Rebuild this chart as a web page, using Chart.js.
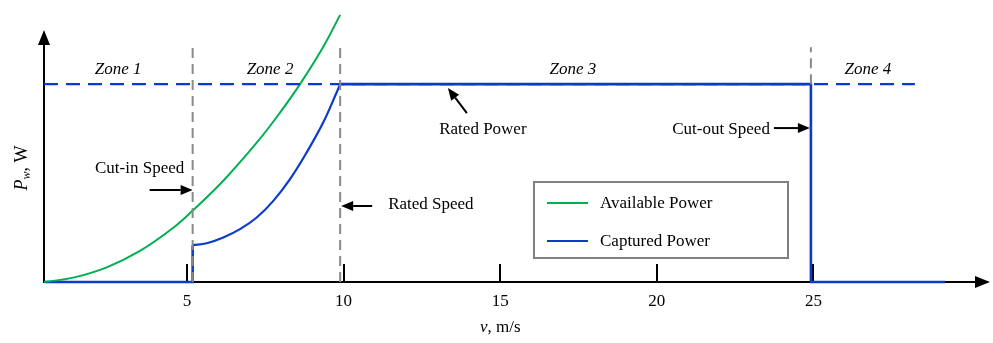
<!DOCTYPE html>
<html>
<head>
<meta charset="utf-8">
<script src="https://cdn.jsdelivr.net/npm/chart.js@4"></script>
<style>
html,body{margin:0;padding:0;background:#fff;}
canvas{display:block;}
</style>
</head>
<body>
<canvas id="c" width="993" height="343"></canvas>
<script>
// ---- data ----
const xTicks = [5, 10, 15, 20, 25];
const zoneLabels = ['Zone 1', 'Zone 2', 'Zone 3', 'Zone 4'];
const zoneCenters = [2.80, 7.65, 17.32, 26.74];

const cutIn = 5.18;
const ratedSpeed = 9.89;
const cutOut = 24.92;
const ratedPower = 1.0;
const vStart = 0.434;
const vEnd = 29.2;
const ratedLineEnd = 28.24;

const availV = [0.434, 1.370, 2.436, 3.499, 4.563, 5.182, 6.159, 7.226, 7.969, 8.608, 9.352, 9.89];
const availP = [0.000, 0.022, 0.074, 0.157, 0.274, 0.361, 0.512, 0.704, 0.856, 1.000, 1.189, 1.350];

const captCurveV = [5.18, 5.629, 6.159, 6.692, 7.226, 7.756, 8.289, 8.822, 9.352, 9.78, 9.89];
const captCurveP = [0.186, 0.196, 0.225, 0.267, 0.326, 0.410, 0.520, 0.655, 0.807, 0.959, 1.000];

const captLowV = [vStart, cutIn, cutIn];
const captLowP = [0, 0, 0.186];
const captHighV = [ratedSpeed, cutOut, cutOut, vEnd];
const captHighP = [ratedPower, ratedPower, 0, 0];

const zoneLineTop = 1.187;

// ---- styles ----
const GREEN = '#00b050';
const BLUE = '#0b3bc8';
const GRAY = '#8a8a8a';
const SERIF = '"Liberation Serif", "DejaVu Serif", serif';

const pts = (xs, ys) => xs.map((x, i) => ({x: x, y: ys[i]}));

const datasets = [
  {label: 'cut-in line', data: pts([cutIn, cutIn], [0, zoneLineTop]), borderColor: GRAY, borderWidth: 2, borderDash: [10, 6], tension: 0},
  {label: 'rated line', data: pts([ratedSpeed, ratedSpeed], [0, zoneLineTop]), borderColor: GRAY, borderWidth: 2, borderDash: [10, 6], tension: 0},
  {label: 'cut-out line', data: pts([cutOut, cutOut], [ratedPower, zoneLineTop]), borderColor: GRAY, borderWidth: 2, borderDash: [10, 6], tension: 0},
  {label: 'Rated Power line', data: pts([vStart, ratedLineEnd], [ratedPower, ratedPower]), borderColor: BLUE, borderWidth: 2.2, borderDash: [14, 8], tension: 0},
  {label: 'Available Power', legend: true, data: pts(availV, availP), borderColor: GREEN, borderWidth: 2, tension: 0.4},
  {label: 'Captured Power', legend: true, data: pts(captCurveV, captCurveP), borderColor: BLUE, borderWidth: 2.2, tension: 0.4},
  {label: 'Captured Power low', data: pts(captLowV, captLowP), borderColor: BLUE, borderWidth: 2.6, tension: 0},
  {label: 'Captured Power high', data: pts(captHighV, captHighP), borderColor: BLUE, borderWidth: 2.6, tension: 0},
];
datasets.forEach(d => { d.pointRadius = 0; d.fill = false; d.clip = false; d.borderCapStyle = 'butt'; });

const annotations = [
  {text: 'Cut-in Speed', ax: cutIn, ay: 0.465, tipDx: 0, tail: [-43, 0], label: [-53, -21], align: 'center'},
  {text: 'Rated Speed', ax: ratedSpeed, ay: 0.384, tipDx: 1, tail: [31, 0], label: [47, -1], align: 'left'},
  {text: 'Rated Power', ax: 13.33, ay: 0.98, tipDx: 0, tail: [19, 25], label: [35, 41], align: 'center'},
  {text: 'Cut-out Speed', ax: cutOut, ay: 0.778, tipDx: -1, tail: [-36, 0], label: [-40, 1], align: 'right'},
];

function arrow(ctx, x1, y1, x2, y2, len, w) {
  const a = Math.atan2(y2 - y1, x2 - x1);
  const bx = x2 - len * Math.cos(a), by = y2 - len * Math.sin(a);
  ctx.beginPath();
  ctx.moveTo(x1, y1);
  ctx.lineTo(bx, by);
  ctx.stroke();
  ctx.beginPath();
  ctx.moveTo(x2, y2);
  ctx.lineTo(bx + w * Math.sin(a), by - w * Math.cos(a));
  ctx.lineTo(bx - w * Math.sin(a), by + w * Math.cos(a));
  ctx.closePath();
  ctx.fill();
}

const axesPlugin = {
  id: 'axes',
  beforeDatasetsDraw(chart) {
    const {ctx, chartArea, scales} = chart;
    const xs = scales.x, ys = scales.y;
    const y0 = ys.getPixelForValue(0);
    ctx.save();
    ctx.strokeStyle = '#000';
    ctx.fillStyle = '#000';
    ctx.lineWidth = 2;
    arrow(ctx, chartArea.left - 1, y0, 990, y0, 15, 6);
    arrow(ctx, chartArea.left, y0 + 1, chartArea.left, 30, 15, 6);
    xTicks.forEach(v => {
      const px = Math.round(xs.getPixelForValue(v));
      ctx.beginPath();
      ctx.moveTo(px, y0);
      ctx.lineTo(px, y0 - 18);
      ctx.stroke();
    });
    ctx.restore();
  },
  afterDatasetsDraw(chart) {
    const {ctx, scales} = chart;
    const xs = scales.x, ys = scales.y;
    const y0 = ys.getPixelForValue(0);
    ctx.save();
    ctx.fillStyle = '#000';
    ctx.strokeStyle = '#000';
    ctx.textBaseline = 'middle';
    ctx.font = '17px ' + SERIF;
    ctx.textAlign = 'center';
    xTicks.forEach(v => ctx.fillText(String(v), xs.getPixelForValue(v), y0 + 20));
    const titleX = xs.getPixelForValue(15), titleY = y0 + 46;
    ctx.font = 'italic 17px ' + SERIF;
    const wv = ctx.measureText('v').width;
    ctx.font = '17px ' + SERIF;
    const wr = ctx.measureText(', m/s').width;
    let sx = titleX - (wv + wr) / 2;
    ctx.textAlign = 'left';
    ctx.font = 'italic 17px ' + SERIF;
    ctx.fillText('v', sx, titleY);
    ctx.font = '17px ' + SERIF;
    ctx.fillText(', m/s', sx + wv, titleY);
    ctx.save();
    ctx.translate(22, 168);
    ctx.rotate(-Math.PI / 2);
    ctx.font = 'italic 18px ' + SERIF;
    const wP = ctx.measureText('P').width;
    ctx.font = 'italic 12px ' + SERIF;
    const ww = ctx.measureText('w').width;
    ctx.font = '18px ' + SERIF;
    const wW = ctx.measureText(', W').width;
    let sy = -(wP + ww + wW) / 2;
    ctx.textAlign = 'left';
    ctx.font = 'italic 18px ' + SERIF;
    ctx.fillText('P', sy, 0);
    ctx.font = 'italic 12px ' + SERIF;
    ctx.fillText('w', sy + wP, 5);
    ctx.font = '18px ' + SERIF;
    ctx.fillText(', W', sy + wP + ww, 0);
    ctx.restore();
    ctx.font = 'italic 17px ' + SERIF;
    ctx.textAlign = 'center';
    zoneLabels.forEach((z, i) => ctx.fillText(z, xs.getPixelForValue(zoneCenters[i]), ys.getPixelForValue(1.075)));
    ctx.font = '17px ' + SERIF;
    ctx.lineWidth = 2;
    annotations.forEach(a => {
      const tx = xs.getPixelForValue(a.ax) + a.tipDx, ty = ys.getPixelForValue(a.ay);
      arrow(ctx, tx + a.tail[0], ty + a.tail[1], tx, ty, 12, 5);
      ctx.textAlign = a.align;
      ctx.fillText(a.text, tx + a.label[0], ty + a.label[1]);
    });
    const lx = 534, ly = 182, lw = 254, lh = 76;
    ctx.fillStyle = '#fff';
    ctx.fillRect(lx, ly, lw, lh);
    ctx.strokeStyle = '#808080';
    ctx.lineWidth = 2;
    ctx.strokeRect(lx, ly, lw, lh);
    const items = chart.data.datasets.filter(d => d.legend);
    items.forEach((d, i) => {
      const yy = ly + 21 + i * 38;
      ctx.strokeStyle = d.borderColor;
      ctx.lineWidth = 2;
      ctx.beginPath();
      ctx.moveTo(lx + 13, yy);
      ctx.lineTo(lx + 54, yy);
      ctx.stroke();
      ctx.fillStyle = '#000';
      ctx.textAlign = 'left';
      ctx.font = '17px ' + SERIF;
      ctx.fillText(d.label, lx + 66, yy + 1);
    });
    ctx.restore();
  }
};

new Chart(document.getElementById('c'), {
  type: 'line',
  data: {datasets: datasets},
  options: {
    responsive: false,
    devicePixelRatio: 1,
    animation: false,
    layout: {padding: {left: 44, right: 23, top: 5, bottom: 61}},
    plugins: {legend: {display: false}, tooltip: {enabled: false}},
    elements: {line: {borderJoinStyle: 'miter'}},
    scales: {
      x: {type: 'linear', min: 0.434, max: 30, display: false},
      y: {type: 'linear', min: 0, max: 1.4, display: false}
    }
  },
  plugins: [axesPlugin]
});
</script>
</body>
</html>
